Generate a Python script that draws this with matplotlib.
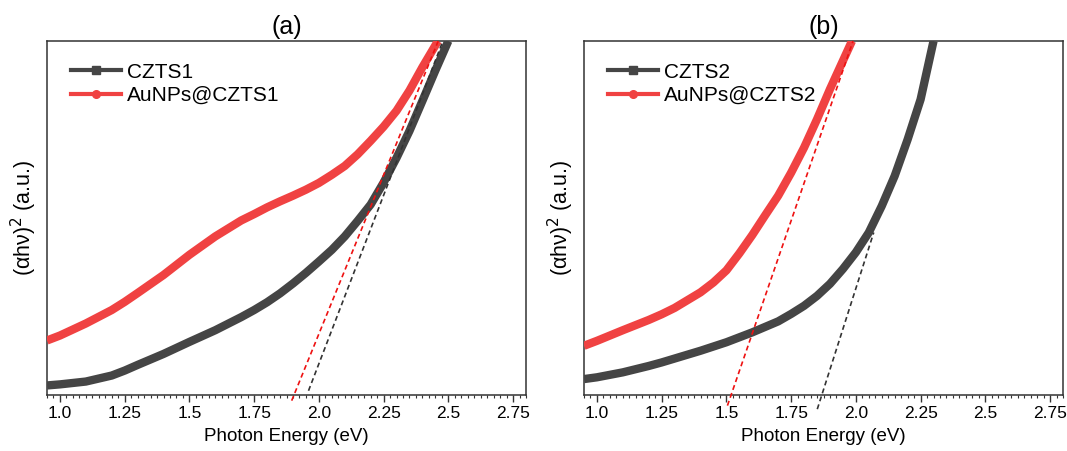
import matplotlib
matplotlib.use("Agg")
import matplotlib.pyplot as plt
from matplotlib.lines import Line2D
from matplotlib.ticker import MultipleLocator

plt.rcParams['font.family'] = ['Liberation Sans', 'DejaVu Sans']

# Panel (a)
a_black_x = [0.95, 1.0, 1.1, 1.2, 1.25, 1.3, 1.4, 1.5, 1.6, 1.7, 1.75, 1.8, 1.85, 1.9, 1.95, 2.0,
             2.05, 2.1, 2.15, 2.2, 2.25, 2.3, 2.35, 2.4, 2.45, 2.5]
a_black_y = [0.027, 0.030, 0.038, 0.055, 0.069, 0.085, 0.116, 0.150, 0.183, 0.220, 0.240, 0.262,
             0.287, 0.315, 0.345, 0.377, 0.410, 0.448, 0.492, 0.538, 0.600, 0.670, 0.746, 0.831,
             0.917, 1.0]
a_red_x = [0.95, 1.0, 1.1, 1.2, 1.25, 1.3, 1.4, 1.5, 1.55, 1.6, 1.7, 1.75, 1.8, 1.85, 1.9, 1.95,
           2.0, 2.05, 2.1, 2.15, 2.2, 2.25, 2.3, 2.35, 2.4, 2.46]
a_red_y = [0.154, 0.168, 0.202, 0.240, 0.263, 0.288, 0.339, 0.396, 0.422, 0.448, 0.493, 0.511,
           0.530, 0.547, 0.563, 0.580, 0.599, 0.622, 0.647, 0.680, 0.718, 0.758, 0.803, 0.860,
           0.926, 1.0]
a_red_fit_x = [1.895, 2.461]
a_red_fit_y = [-0.016, 1.0]
a_black_fit_x = [1.96, 2.479]
a_black_fit_y = [0.012, 1.0]

# Panel (b)
b_black_x = [0.95, 1.0, 1.1, 1.2, 1.25, 1.3, 1.4, 1.5, 1.6, 1.7, 1.75, 1.8, 1.85, 1.9, 1.95, 2.0,
             2.05, 2.1, 2.15, 2.2, 2.25, 2.3]
b_black_y = [0.045, 0.050, 0.064, 0.082, 0.092, 0.103, 0.125, 0.149, 0.177, 0.208, 0.229, 0.252,
             0.280, 0.314, 0.356, 0.403, 0.459, 0.534, 0.619, 0.722, 0.835, 1.0]
b_red_x = [0.95, 1.0, 1.1, 1.2, 1.25, 1.3, 1.4, 1.45, 1.5, 1.55, 1.6, 1.65, 1.7, 1.75, 1.8, 1.85,
           1.9, 1.95, 1.985]
b_red_y = [0.139, 0.153, 0.183, 0.212, 0.228, 0.246, 0.290, 0.318, 0.352, 0.400, 0.452, 0.508,
           0.563, 0.628, 0.699, 0.779, 0.864, 0.944, 1.0]
b_red_fit_x = [1.504, 1.989]
b_red_fit_y = [-0.030, 1.0]
b_black_fit_x = [1.851, 2.069]
b_black_fit_y = [-0.040, 0.459]

xticks = [1.0, 1.25, 1.5, 1.75, 2.0, 2.25, 2.5, 2.75]
xticklabels = ['1.0', '1.25', '1.5', '1.75', '2.0', '2.25', '2.5', '2.75']

BLACK = '#454545'
RED = '#f04242'

fig = plt.figure(figsize=(10.67, 4.51), dpi=100)
ax1 = fig.add_axes([47/1067, 1 - 395/451, 479/1067, 354/451])
ax2 = fig.add_axes([584/1067, 1 - 395/451, 479/1067, 354/451])

panels = [
    (ax1, '(a)', 'CZTS1', 'AuNPs@CZTS1', a_black_x, a_black_y, a_red_x, a_red_y,
     a_red_fit_x, a_red_fit_y, a_black_fit_x, a_black_fit_y),
    (ax2, '(b)', 'CZTS2', 'AuNPs@CZTS2', b_black_x, b_black_y, b_red_x, b_red_y,
     b_red_fit_x, b_red_fit_y, b_black_fit_x, b_black_fit_y),
]

for (ax, title, lb, lr, bx, by, rx, ry, rfx, rfy, bfx, bfy) in panels:
    ax.plot(bx, by, color=BLACK, lw=6, solid_capstyle='butt', solid_joinstyle='round', zorder=3)
    ax.plot(rx, ry, color=RED, lw=6, solid_capstyle='butt', solid_joinstyle='round', zorder=3)
    ax.plot(rfx, rfy, color='#ee1111', lw=1.2, ls=(0, (3, 2)), zorder=4, clip_on=False)
    ax.plot(bfx, bfy, color='#333333', lw=1.2, ls=(0, (3, 2)), zorder=4, clip_on=False)
    ax.set_xlim(0.95, 2.80)
    ax.set_ylim(0, 1.0)
    ax.set_xticks(xticks)
    ax.set_xticklabels(xticklabels, fontsize=12.5)
    ax.xaxis.set_minor_locator(MultipleLocator(0.025))
    ax.tick_params(axis='x', which='major', direction='out', length=5, width=1, color='#333333', pad=3)
    ax.tick_params(axis='x', which='minor', direction='out', length=2.5, width=0.8, color='#333333')
    ax.set_yticks([])
    for s in ax.spines.values():
        s.set_color('#333333')
        s.set_linewidth(1.1)
    ax.set_xlabel('Photon Energy (eV)', fontsize=13.5, labelpad=5)
    ax.set_ylabel(r'($\mathregular{\alpha h\nu}$)$^2$ (a.u.)', fontsize=15.5, labelpad=6)
    ax.set_title(title, fontsize=18, pad=5)
    handles = [
        Line2D([], [], color=BLACK, lw=3, marker='s', ms=5.5),
        Line2D([], [], color=RED, lw=3, marker='o', ms=5.5),
    ]
    ax.legend(handles, [lb, lr], loc='upper left', bbox_to_anchor=(0.02, 0.98),
              frameon=False, fontsize=15, handlelength=2.4, handletextpad=0.3,
              labelspacing=0.2, borderaxespad=0.3)

fig.savefig('out.png', dpi=100)
